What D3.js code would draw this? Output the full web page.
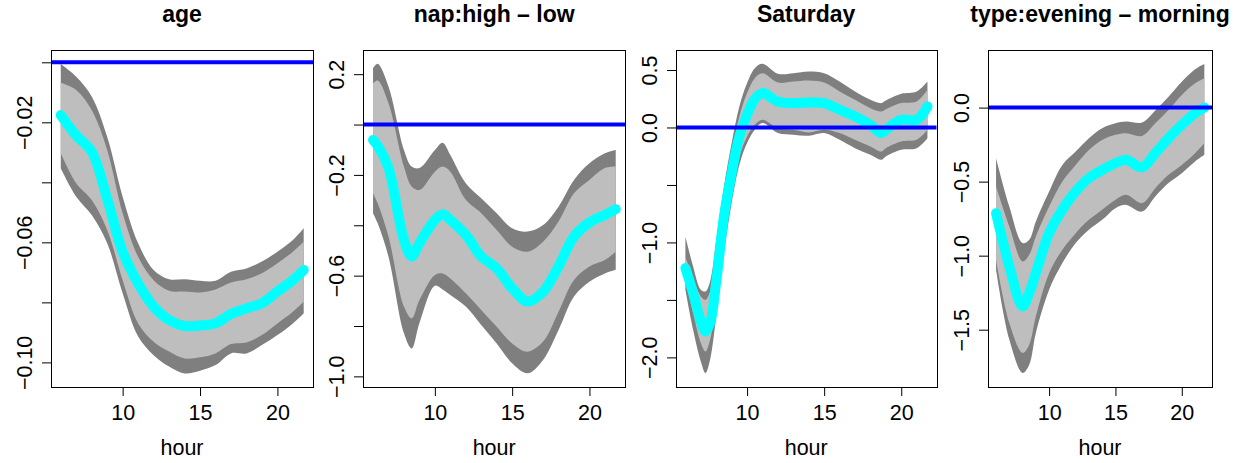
<!DOCTYPE html>
<html>
<head>
<meta charset="utf-8">
<script src="https://cdn.jsdelivr.net/npm/d3@7"></script>
<style>
  body { margin: 0; background: #fff; }
  svg { display: block; }
  text { font-family: "Liberation Sans", Arial, sans-serif; fill: #000; }
</style>
</head>
<body>
<div id="svg"></div>
<script>
// ---- data ----
var hourTicks = [10, 15, 20];

// age
var ageHour  = [6, 7, 8, 9, 10, 11, 12, 13, 14, 15, 16, 17, 18, 19, 20, 21, 21.7];
var ageFit   = [-0.0176, -0.0244, -0.0298, -0.0455, -0.0631, -0.0737, -0.0814, -0.0859, -0.0879, -0.0877, -0.0870, -0.0839, -0.0820, -0.0803, -0.0764, -0.0726, -0.0692];
var ageHiOut = [-0.0006, -0.0048, -0.0114, -0.0248, -0.0448, -0.0603, -0.0692, -0.0723, -0.0723, -0.0728, -0.0728, -0.0698, -0.0687, -0.0664, -0.0631, -0.0592, -0.0553];
var ageHiIn  = [-0.0068, -0.0092, -0.0159, -0.0292, -0.0503, -0.0648, -0.0726, -0.0761, -0.0764, -0.0767, -0.0757, -0.0734, -0.0723, -0.0703, -0.0670, -0.0631, -0.0598];
var ageLoIn  = [-0.0303, -0.0403, -0.0459, -0.0559, -0.0726, -0.0870, -0.0931, -0.0964, -0.0987, -0.0983, -0.0970, -0.0939, -0.0934, -0.0909, -0.0870, -0.0831, -0.0798];
var ageLoOut = [-0.0353, -0.0448, -0.0509, -0.0603, -0.0770, -0.0914, -0.0976, -0.1014, -0.1037, -0.1028, -0.1009, -0.0970, -0.0970, -0.0942, -0.0909, -0.0870, -0.0837];
var ageTicks  = [-0.10, -0.08, -0.06, -0.04, -0.02, 0];
var ageLabels = ["\u22120.10", "", "\u22120.06", "", "\u22120.02", ""];

// nap:high - low
var napHour  = [6, 6.3, 7, 8, 8.5, 9, 10, 10.5, 11, 12, 13, 14, 15, 16, 17, 18, 19, 20, 21, 21.7];
var napFit   = [-0.061, -0.085, -0.173, -0.458, -0.524, -0.472, -0.379, -0.356, -0.379, -0.438, -0.524, -0.571, -0.650, -0.703, -0.664, -0.564, -0.445, -0.389, -0.359, -0.336];
var napHiOut = [0.224, 0.241, 0.151, -0.101, -0.167, -0.173, -0.101, -0.072, -0.121, -0.233, -0.293, -0.352, -0.412, -0.425, -0.399, -0.326, -0.220, -0.154, -0.114, -0.101];
var napHiIn  = [0.164, 0.175, 0.085, -0.167, -0.246, -0.260, -0.187, -0.167, -0.187, -0.299, -0.352, -0.419, -0.485, -0.505, -0.465, -0.385, -0.273, -0.220, -0.173, -0.167];
var napLoIn  = [-0.273, -0.313, -0.445, -0.723, -0.770, -0.697, -0.597, -0.591, -0.611, -0.670, -0.736, -0.803, -0.869, -0.902, -0.862, -0.743, -0.617, -0.564, -0.538, -0.505];
var napLoOut = [-0.352, -0.392, -0.525, -0.829, -0.889, -0.789, -0.640, -0.655, -0.677, -0.723, -0.796, -0.869, -0.948, -0.988, -0.935, -0.816, -0.683, -0.624, -0.591, -0.577];
var napTicks  = [-1.0, -0.8, -0.6, -0.4, -0.2, 0, 0.2];
var napLabels = ["\u22121.0", "", "\u22120.6", "", "\u22120.2", "", "0.2"];

// Saturday
var satHour  = [6, 6.5, 7, 7.3, 7.6, 8, 8.5, 9, 9.5, 10, 10.5, 11, 12, 13, 14, 15, 16, 17, 18, 18.7, 19, 20, 21, 21.7];
var satFit   = [-1.223, -1.441, -1.687, -1.774, -1.701, -1.339, -0.774, -0.397, -0.078, 0.110, 0.246, 0.299, 0.226, 0.212, 0.217, 0.212, 0.154, 0.096, 0.023, -0.049, -0.020, 0.067, 0.067, 0.183];
var satHiOut = [-0.948, -1.209, -1.412, -1.426, -1.339, -0.977, -0.513, -0.136, 0.183, 0.386, 0.516, 0.554, 0.467, 0.472, 0.487, 0.472, 0.400, 0.313, 0.241, 0.212, 0.235, 0.293, 0.313, 0.400];
var satHiIn  = [-1.122, -1.310, -1.470, -1.499, -1.426, -1.093, -0.600, -0.223, 0.096, 0.299, 0.429, 0.472, 0.391, 0.400, 0.409, 0.391, 0.313, 0.241, 0.168, 0.139, 0.159, 0.212, 0.226, 0.328];
var satLoIn  = [-1.325, -1.614, -1.875, -1.948, -1.846, -1.528, -1.006, -0.571, -0.252, -0.078, 0.023, 0.067, -0.006, -0.020, -0.043, -0.020, -0.049, -0.107, -0.165, -0.209, -0.180, -0.122, -0.107, -0.020];
var satLoOut = [-1.412, -1.759, -2.035, -2.136, -2.020, -1.643, -1.093, -0.658, -0.325, -0.136, -0.020, 0.038, -0.049, -0.064, -0.072, -0.049, -0.107, -0.180, -0.238, -0.281, -0.252, -0.194, -0.180, -0.093];
var satTicks  = [-2.0, -1.5, -1.0, -0.5, 0, 0.5];
var satLabels = ["\u22122.0", "", "\u22121.0", "", "0.0", "0.5"];

// type:evening - morning
var typHour  = [6, 7, 8, 8.5, 9, 10, 11, 12, 13, 14, 15, 15.8, 17, 18, 19, 20, 21, 21.7];
var typFit   = [-0.713, -1.073, -1.343, -1.253, -1.118, -0.848, -0.690, -0.567, -0.477, -0.420, -0.376, -0.353, -0.403, -0.308, -0.207, -0.117, -0.038, 0.000];
var typHiOut = [-0.342, -0.668, -0.915, -0.893, -0.769, -0.567, -0.387, -0.297, -0.207, -0.139, -0.106, -0.094, -0.101, -0.020, 0.074, 0.175, 0.259, 0.295];
var typHiIn  = [-0.533, -0.803, -1.039, -0.994, -0.870, -0.668, -0.499, -0.387, -0.286, -0.218, -0.184, -0.173, -0.191, -0.106, -0.016, 0.085, 0.164, 0.198];
var typLoIn  = [-1.028, -1.455, -1.657, -1.601, -1.410, -1.118, -0.960, -0.848, -0.758, -0.690, -0.623, -0.589, -0.645, -0.544, -0.454, -0.387, -0.308, -0.241];
var typLoOut = [-1.095, -1.567, -1.792, -1.736, -1.522, -1.230, -1.050, -0.915, -0.825, -0.758, -0.679, -0.657, -0.702, -0.600, -0.510, -0.443, -0.364, -0.319];
var typTicks  = [-1.5, -1.0, -0.5, 0];
var typLabels = ["\u22121.5", "\u22121.0", "\u22120.5", "0.0"];

var titles = ["age", "nap:high \u2013 low", "Saturday", "type:evening \u2013 morning"];

// ---- layout ----
var width = 1241;
var height = 463;
var top_y = 50, bottom_y = 386.7;

var panels = [
  { left: 51,    right: 313,    ydom: [-0.1081, 0.0041], hour: ageHour, fit: ageFit, hiOut: ageHiOut, hiIn: ageHiIn, loIn: ageLoIn, loOut: ageLoOut, ticks: ageTicks, labels: ageLabels },
  { left: 363.3, right: 625,    ydom: [-1.041, 0.296],   hour: napHour, fit: napFit, hiOut: napHiOut, hiIn: napHiIn, loIn: napLoIn, loOut: napLoOut, ticks: napTicks, labels: napLabels },
  { left: 675.7, right: 936.7,  ydom: [-2.255, 0.674],   hour: satHour, fit: satFit, hiOut: satHiOut, hiIn: satHiIn, loIn: satLoIn, loOut: satLoOut, ticks: satTicks, labels: satLabels },
  { left: 987.7, right: 1212.3, ydom: [-1.885, 0.389],   hour: typHour, fit: typFit, hiOut: typHiOut, hiIn: typHiIn, loIn: typLoIn, loOut: typLoOut, ticks: typTicks, labels: typLabels }
];

var svg = d3.select("#svg").append("svg")
  .attr("width", width)
  .attr("height", height);

var defs = svg.append("defs");

panels.forEach(function(p, k) {
  var x_axis = d3.scaleLinear().domain([5.37, 22.3]).range([p.left, p.right]);
  var y_axis = d3.scaleLinear().domain(p.ydom).range([bottom_y, top_y]);

  var rows = p.hour.map(function(h, i) {
    return { h: h, fit: p.fit[i], hiOut: p.hiOut[i], hiIn: p.hiIn[i], loIn: p.loIn[i], loOut: p.loOut[i] };
  });

  defs.append("clipPath").attr("id", "clip" + k)
    .append("rect")
    .attr("x", p.left).attr("y", top_y)
    .attr("width", p.right - p.left).attr("height", bottom_y - top_y);

  var g = svg.append("g").attr("clip-path", "url(#clip" + k + ")");
  var curve = d3.curveCatmullRom.alpha(0.5);

  var outer = d3.area().curve(curve)
    .x(function(d) { return x_axis(d.h); })
    .y0(function(d) { return y_axis(d.loOut); })
    .y1(function(d) { return y_axis(d.hiOut); });
  var inner = d3.area().curve(curve)
    .x(function(d) { return x_axis(d.h); })
    .y0(function(d) { return y_axis(d.loIn); })
    .y1(function(d) { return y_axis(d.hiIn); });
  var line = d3.line().curve(curve)
    .x(function(d) { return x_axis(d.h); })
    .y(function(d) { return y_axis(d.fit); });

  g.append("path").datum(rows).attr("d", outer).attr("fill", "#7f7f7f");
  g.append("path").datum(rows).attr("d", inner).attr("fill", "#bebebe");
  g.append("path").datum(rows).attr("d", line)
    .attr("fill", "none").attr("stroke", "#00ffff")
    .attr("stroke-width", 10)
    .attr("stroke-linecap", "round").attr("stroke-linejoin", "round");

  // reference line at zero
  g.append("line")
    .attr("x1", p.left).attr("x2", p.right)
    .attr("y1", y_axis(0)).attr("y2", y_axis(0))
    .attr("stroke", "#0000ff").attr("stroke-width", 4);

  // box
  svg.append("rect")
    .attr("x", Math.round(p.left) + 0.5).attr("y", top_y + 0.5)
    .attr("width", Math.round(p.right) - Math.round(p.left)).attr("height", Math.round(bottom_y - top_y))
    .attr("fill", "none").attr("stroke", "#000").attr("stroke-width", 1);

  // x axis
  var gx = svg.append("g")
    .attr("transform", "translate(0," + Math.round(bottom_y) + ")")
    .call(d3.axisBottom(x_axis).tickValues(hourTicks).tickSize(9).tickFormat(d3.format("d")));
  gx.select(".domain").remove();
  gx.selectAll("text")
    .attr("y", 33.3).attr("dy", 0)
    .style("font-size", "21.5px")
    .style("font-family", "'Liberation Sans', Arial, sans-serif");

  // y axis
  var gy = svg.append("g")
    .attr("transform", "translate(" + Math.round(p.left) + ",0)")
    .call(d3.axisLeft(y_axis).tickValues(p.ticks).tickSize(9)
      .tickFormat(function(d, i) { return p.labels[i]; }));
  gy.select(".domain").remove();
  gy.selectAll("text")
    .attr("transform", "rotate(-90)")
    .attr("x", 0).attr("y", -19).attr("dy", 0)
    .attr("text-anchor", "middle")
    .style("font-size", "21.5px")
    .style("font-family", "'Liberation Sans', Arial, sans-serif");

  var cx = (p.left + p.right) / 2;

  svg.append("text")
    .attr("x", cx).attr("y", 21.5)
    .attr("text-anchor", "middle")
    .style("font-size", "23px").style("font-weight", "bold")
    .text(titles[k]);

  svg.append("text")
    .attr("x", cx).attr("y", 455)
    .attr("text-anchor", "middle")
    .style("font-size", "21.5px")
    .text("hour");
});
</script>
</body>
</html>
